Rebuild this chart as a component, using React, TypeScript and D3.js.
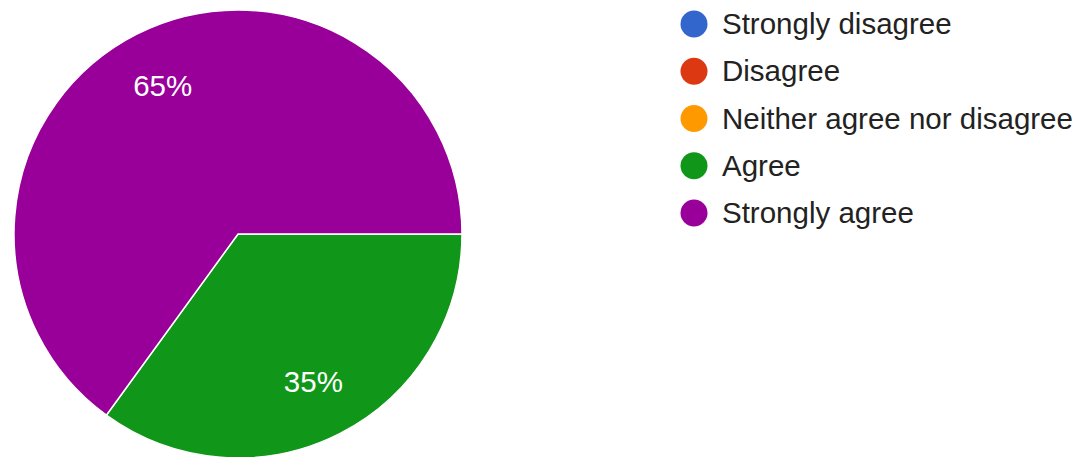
import React from "react";
import * as d3 from "d3";

const categories = ["Strongly disagree", "Disagree", "Neither agree nor disagree", "Agree", "Strongly agree"];
const values = [0, 0, 0, 35, 65];
const colors = ["#3366cc", "#dc3912", "#ff9900", "#109618", "#990099"];

const W = 1086;
const H = 457;

export default function App() {
  const cx = 238;
  const cy = 234;
  const r = 224;
  const font = "'Liberation Sans', Arial, sans-serif";

  const pie = d3
    .pie<number>()
    .sort(null)
    .startAngle(Math.PI / 2)
    .endAngle(Math.PI / 2 + 2 * Math.PI);
  const arcs = pie(values);
  const arc = d3.arc<d3.PieArcDatum<number>>().innerRadius(0).outerRadius(r);
  const labelArc = d3.arc<d3.PieArcDatum<number>>().innerRadius(166).outerRadius(166);
  const total = d3.sum(values);

  const legendY = d3.scalePoint<string>().domain(categories).range([24, 213]);

  return (
    <svg
      width={W}
      height={H}
      style={{ position: "absolute", left: 0, top: 0, background: "#fff" }}
    >
      <g transform={`translate(${cx},${cy})`}>
        {arcs.map((a, i) =>
          a.value > 0 ? (
            <path key={i} d={arc(a) || ""} fill={colors[i]} stroke="#fff" strokeWidth={1.5} />
          ) : null
        )}
        {arcs.map((a, i) => {
          if (a.value <= 0) return null;
          const [lx, ly] = labelArc.centroid(a);
          return (
            <text
              key={"l" + i}
              x={lx}
              y={ly + 10}
              textAnchor="middle"
              fill="#ffffff"
              fontFamily={font}
              fontSize={29.5}
            >
              {d3.format(".0%")(a.value / total)}
            </text>
          );
        })}
      </g>
      <g>
        {categories.map((c, i) => (
          <g key={c} transform={`translate(0,${legendY(c)})`}>
            <circle cx={694} cy={0} r={13.5} fill={colors[i]} />
            <text x={722} y={10} fill="#222" fontFamily={font} fontSize={29.5}>
              {c}
            </text>
          </g>
        ))}
      </g>
    </svg>
  );
}
